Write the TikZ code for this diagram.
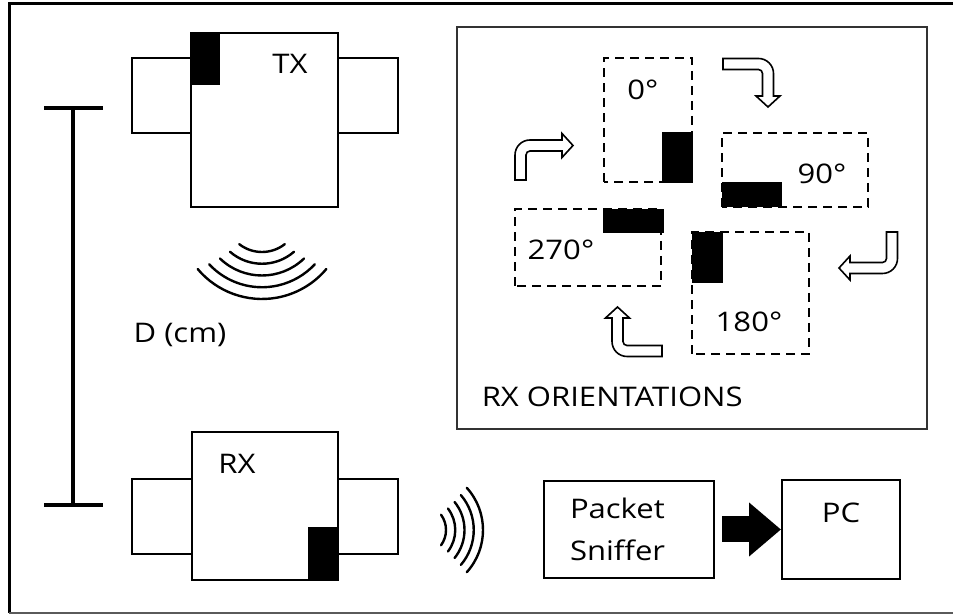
\documentclass[tikz,border=0pt]{standalone}
\usepackage{fontspec}
\setmainfont{Open Sans}[FakeStretch=1.15]
\usepackage{xcolor}
\usepackage{tikz}
\usetikzlibrary{arrows.meta, positioning}
\definecolor{framegray}{RGB}{90, 90, 90}

% hollow bent arrow: position, rotation, first leg, second leg
\newcommand{\turnarrow}[4]{%
  \begin{scope}[shift={#1}, rotate=#2]
    \draw[line width=0.8pt, fill=white]
      (-5.5,0) -- (-5.5,#3-9.5) arc[start angle=180, end angle=90, radius=15]
      -- (#4-11,#3+5.5) -- (#4-11,#3+12) -- (#4,#3) -- (#4-11,#3-12) -- (#4-11,#3-5.5)
      -- (9.5,#3-5.5) arc[start angle=90, end angle=180, radius=4] -- (5.5,0) -- cycle;
  \end{scope}}

\begin{document}
\begin{tikzpicture}[x=0.5pt, y=0.5pt, thick,
    unitbox/.style={draw, line width=1pt},
    lbl/.style={inner sep=0pt, font=\fontsize{13.5}{21}\selectfont},
    orient/.style={draw, line width=1pt, dash pattern=on 4.5pt off 3pt},
    wave/.style={line width=1.2pt, line cap=round},
    fatarrow/.style={line width=13pt, -{Triangle[length=16pt, width=26pt]}, shorten <=3.5pt}]
    \useasboundingbox (0,0) rectangle (953,615);

    % Outer frame
    \draw[line width=1.5pt] (953,611) -- (9,611) -- (9,2);
    \draw[framegray, line width=1pt] (9,2) -- (953,2);

    % TX unit
    \draw[unitbox] (132,482) rectangle (191,557);
    \draw[unitbox] (338,482) rectangle (398,557);
    \draw[unitbox] (191,408) rectangle (338,582);
    \fill (191,530) rectangle (220,582);
    \node[lbl] (tx) at (290,551) {TX};

    % Distance bar
    \draw[line width=2pt] (44,507) -- (103,507);
    \draw[line width=2pt] (73,507) -- (73,110);
    \draw[line width=2pt] (44,110) -- (103,110);
    \node[lbl] (dist) at (180,280) {D (cm)};

    % Waves
    \coordinate (txc) at (262,400);
    \foreach \i in {0,...,4} {
        \pgfmathsetmacro{\arcr}{37+11.75*\i}
        \pgfmathsetmacro{\arch}{38+3*\i}
        \draw[wave] (txc) ++({270-\arch}:\arcr) arc[start angle=270-\arch, end angle=270+\arch, radius=\arcr];
    }
    \coordinate (rxc) at (420,85);
    \foreach \i in {0,...,4} {
        \pgfmathsetmacro{\arcr}{26+9.25*\i}
        \pgfmathsetmacro{\arch}{36+1.5*\i}
        \draw[wave] (rxc) ++({-\arch}:\arcr) arc[start angle=-\arch, end angle=\arch, radius=\arcr];
    }

    % RX unit
    \draw[unitbox] (132,61) rectangle (192,136);
    \draw[unitbox] (338,61) rectangle (398,136);
    \draw[unitbox] (192,35) rectangle (338,183);
    \fill (308,35) rectangle (338,88);
    \node[lbl] (rx) at (237,151) {RX};

    % Orientations panel
    \draw[black!80, line width=1pt] (457,186) rectangle (927,588);
    \node[lbl, anchor=west] (orienttitle) at (481,218) {RX ORIENTATIONS};

    \draw[orient] (604,433) rectangle (692,557);
    \fill (662,432) rectangle (693,483);
    \node[lbl] (deg0) at (643,525) {0°};

    \draw[orient] (722,408) rectangle (868,482);
    \fill (722,408) rectangle (782,433);
    \node[lbl] (deg90) at (822,441) {90°};

    \draw[orient] (515,329) rectangle (661,406);
    \fill (603,382) rectangle (664,406);
    \node[lbl] (deg270) at (561,365) {270°};

    \draw[orient] (692,261) rectangle (809,383);
    \fill (692,332) rectangle (723,383);
    \node[lbl] (deg180) at (749,293) {180°};

    \turnarrow{(520.5,435)}{0}{34.5}{52.5}
    \turnarrow{(723,551)}{-90}{45}{43}
    \turnarrow{(892,383)}{180}{36}{53}
    \turnarrow{(662,264)}{90}{44.5}{44}

    % Sniffer to PC
    \node[unitbox, lbl, minimum width=85pt, minimum height=48.5pt, text width=59pt,
          align=left, inner xsep=13pt] (sniffer) at (629,85.5) {Packet\\Sniffer};
    \node[unitbox, minimum width=59pt, minimum height=49.5pt, right=33pt of sniffer] (pc) {};
    \node[lbl, below=11.5pt of pc.north] (pctext) {PC};
    \draw[fatarrow] (sniffer) -- (pc);

\end{tikzpicture}
\end{document}
